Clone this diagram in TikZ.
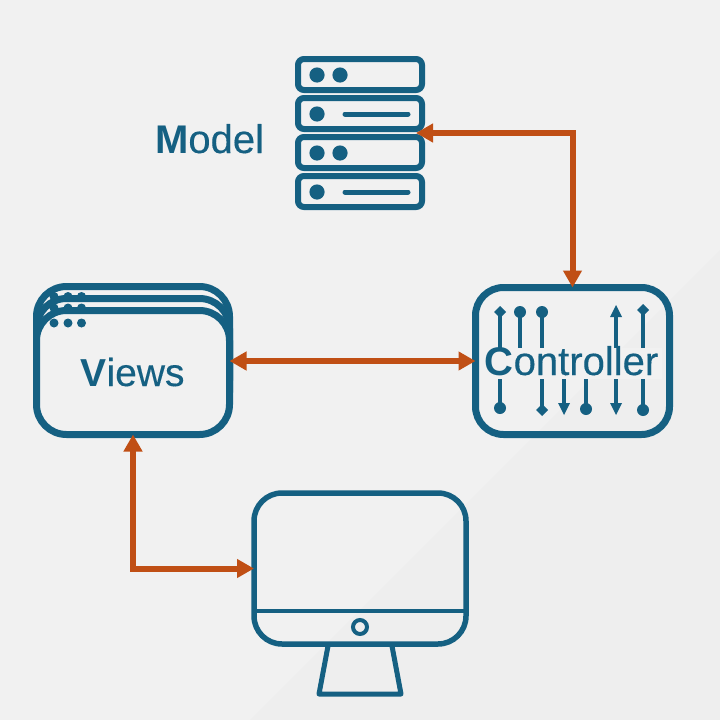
\documentclass[tikz,border=0pt]{standalone}
\usepackage{fontspec}
\setmainfont{Liberation Sans}
\newfontfamily\lblfont[UprightFeatures={FakeBold=0.3}]{Liberation Sans}
\usetikzlibrary{arrows.meta,fadings}
\definecolor{bgA}{HTML}{F1F1F1}
\definecolor{bgB}{HTML}{EEEEEE}
\definecolor{mvcblue}{HTML}{156082}
\definecolor{mvcorange}{HTML}{C04F15}
\tikzfading[name=halofade, top color=transparent!100, middle color=transparent!0, bottom color=transparent!100]
\tikzset{
  x=1pt, y=-1pt,
  rackbox/.style={draw=mvcblue, line width=6pt, rounded corners=6pt, minimum width=124pt, minimum height=31pt, inner sep=0pt, outer sep=0pt},
  winbox/.style={draw=mvcblue, fill=bgA, line width=7pt, rounded corners=30pt, minimum width=193pt, minimum height=124pt, inner sep=0pt, outer sep=0pt},
  rackline/.style={draw=mvcblue, line width=5pt, line cap=round},
  wire/.style={draw=mvcblue, line width=4pt},
  link/.style={draw=mvcorange, line width=6pt, {Triangle[length=17pt,width=18pt]}-{Triangle[length=17pt,width=18pt]}},
  label/.style={text=mvcblue, inner sep=0pt, font=\lblfont\fontsize{#1}{#1}\selectfont},
}
\newcommand{\wirediamond}[2]{\fill[mvcblue] (#1,#2-6) -- (#1+6,#2) -- (#1,#2+6) -- (#1-6,#2) -- cycle;}
\newcommand{\wiretip}[3]{\fill[mvcblue] (#1,#2) -- (#1+6,#2+#3) -- (#1-6,#2+#3) -- cycle;}
\begin{document}
\begin{tikzpicture}
\useasboundingbox (0,0) rectangle (720,720);
% background
\fill[bgA] (0,0) rectangle (720,720);
\fill[bgB] (250,720) -- (720,250) -- (720,720) -- cycle;

% model: server rack
\node[rackbox] (rackA) at (360,74.5) {};
\node[rackbox] (rackB) at (360,113.5) {};
\node[rackbox] (rackC) at (360,152.5) {};
\node[rackbox] (rackD) at (360,191.5) {};
\foreach \yy in {75,153} {
  \fill[mvcblue] (317,\yy) circle (7.6);
  \fill[mvcblue] (340,\yy) circle (7.6);
}
\foreach \yy in {114,192} {
  \fill[mvcblue] (317,\yy) circle (7.6);
  \draw[rackline] (345,\yy) -- (408,\yy);
}
\node[label=40, anchor=base] (model) at (209.5,153) {\textbf{M}odel};
\coordinate (modelport) at (416,133);

% views: stacked windows
\foreach \xx in {54,68,81.5} \fill[mvcblue] (\xx,296.5) circle (4.5);
\node[winbox] (viewsA) at (133,348.5) {};
\foreach \xx in {54,68,81.5} \fill[mvcblue] (\xx,308) circle (4.5);
\node[winbox] (viewsB) at (133,360.5) {};
\foreach \xx in {54,68,81.5} \fill[mvcblue] (\xx,296.5) circle (4.5);
\foreach \xx in {54,68,81.5} \fill[mvcblue] (\xx,308) circle (4.5);
\node[winbox] (views) at (133,372.5) {};
\foreach \xx in {54,68,81.5} \fill[mvcblue] (\xx,323) circle (4.5);
\node[label=39, anchor=base] (viewslabel) at (132.5,386) {\textbf{V}iews};

% controller
\node[draw=mvcblue, line width=7pt, rounded corners=28pt, minimum width=194pt, minimum height=147pt, inner sep=0pt, outer sep=0pt] (controller) at (572.5,361) {};
\draw[wire] (500,312) -- (500,408);
\wirediamond{500}{312}
\fill[mvcblue] (500,408) circle (6);
\draw[wire] (520,312) -- (520,355);
\fill[mvcblue] (520,312) circle (6);
\draw[wire] (542,312) -- (542,410);
\fill[mvcblue] (542,312) circle (6);
\wirediamond{542}{410}
\draw[wire] (564,355) -- (564,405);
\wiretip{564}{415}{-12}
\draw[wire] (586,355) -- (586,409);
\fill[mvcblue] (586,409) circle (6);
\draw[wire] (616,315) -- (616,405);
\wiretip{616}{305}{12}
\wiretip{616}{415}{-12}
\draw[wire] (643,310) -- (643,410);
\wirediamond{643}{310}
\fill[mvcblue] (643,410) circle (6);
% soft halo behind the controller label
\fill[bgA, path fading=halofade] (477,332) rectangle (668,392);
\fill[bgA, path fading=halofade] (479,340) rectangle (666,386);
\fill[bgA] (482,348) rectangle (662,379);
\node[label=40, anchor=base] (controllerlabel) at (571.5,375) {\textbf{C}ontroller};

% monitor
\node[draw=mvcblue, line width=5.5pt, rounded corners=28pt, minimum width=212pt, minimum height=151pt, inner sep=0pt, outer sep=0pt] (monitor) at (360,568.5) {};
\draw[mvcblue, line width=4pt] (monitor.west |- 0,611) -- (monitor.east |- 0,611);
\draw[mvcblue, line width=4pt] (360,627) circle (7);
\draw[mvcblue, line width=5pt, line join=round] (328,646) -- (319,694) -- (401,694) -- (392,646);

% connectors
\draw[link] (modelport) -| (controller.north);
\draw[link] (views.east |- controller.west) -- (controller.west);
\draw[link] (views.south) |- (monitor.west);
\end{tikzpicture}
\end{document}
